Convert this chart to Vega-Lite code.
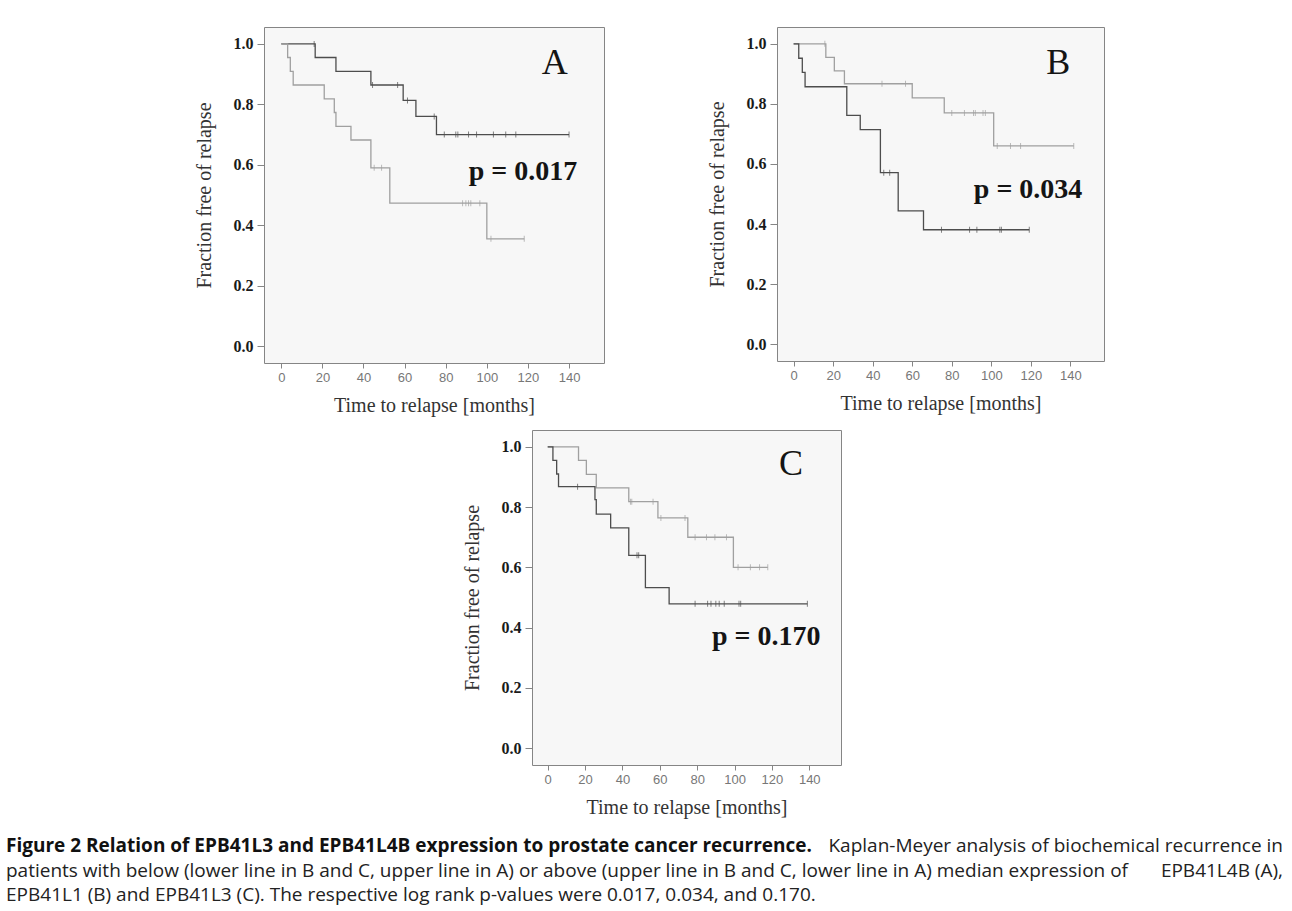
{
  "$schema": "https://vega.github.io/schema/vega-lite/v6.json",
  "background": "white",
  "padding": {"left": 6, "top": 26, "right": 0, "bottom": 10},
  "config": {
    "view": {"stroke": "#858585", "strokeWidth": 1, "fill": "#f7f7f7"},
    "axisX": {"labelFont": "Liberation Sans", "labelFontSize": 13, "labelColor": "#777777", "tickColor": "#858585", "tickSize": 5, "labelPadding": 3, "domain": false, "grid": false, "titleFont": "Liberation Serif", "titleFontSize": 20, "titleFontWeight": "normal", "titleColor": "#333333", "titlePadding": 11},
    "axisY": {"labelFont": "Liberation Serif", "labelFontSize": 16, "labelFontWeight": "bold", "labelColor": "#1a1a1a", "tickColor": "#858585", "tickSize": 7, "labelPadding": 4, "domain": false, "grid": false, "titleFont": "Liberation Serif", "titleFontSize": 20, "titleFontWeight": "normal", "titleColor": "#333333", "titlePadding": 19}
  },
  "datasets": {
    "curves": [
      {"panel": "A", "group": "below", "time": 0, "surv": 1},
      {"panel": "A", "group": "below", "time": 16.5, "surv": 0.955},
      {"panel": "A", "group": "below", "time": 26.6, "surv": 0.909},
      {"panel": "A", "group": "below", "time": 43.6, "surv": 0.864},
      {"panel": "A", "group": "below", "time": 59.3, "surv": 0.813},
      {"panel": "A", "group": "below", "time": 65.5, "surv": 0.76},
      {"panel": "A", "group": "below", "time": 75.5, "surv": 0.7},
      {"panel": "A", "group": "below", "time": 140, "surv": 0.7},
      {"panel": "A", "group": "above", "time": 0, "surv": 1},
      {"panel": "A", "group": "above", "time": 3.1, "surv": 0.955},
      {"panel": "A", "group": "above", "time": 4.4, "surv": 0.909},
      {"panel": "A", "group": "above", "time": 5.8, "surv": 0.864},
      {"panel": "A", "group": "above", "time": 20.9, "surv": 0.818},
      {"panel": "A", "group": "above", "time": 25.8, "surv": 0.773},
      {"panel": "A", "group": "above", "time": 26.6, "surv": 0.727},
      {"panel": "A", "group": "above", "time": 33.9, "surv": 0.682},
      {"panel": "A", "group": "above", "time": 43.6, "surv": 0.59},
      {"panel": "A", "group": "above", "time": 52.8, "surv": 0.473},
      {"panel": "A", "group": "above", "time": 100, "surv": 0.355},
      {"panel": "A", "group": "above", "time": 118.2, "surv": 0.355},
      {"panel": "B", "group": "above", "time": 0, "surv": 1},
      {"panel": "B", "group": "above", "time": 16.3, "surv": 0.955},
      {"panel": "B", "group": "above", "time": 20.6, "surv": 0.91},
      {"panel": "B", "group": "above", "time": 25.7, "surv": 0.867},
      {"panel": "B", "group": "above", "time": 60, "surv": 0.82},
      {"panel": "B", "group": "above", "time": 76.2, "surv": 0.77},
      {"panel": "B", "group": "above", "time": 101.2, "surv": 0.66},
      {"panel": "B", "group": "above", "time": 141.7, "surv": 0.66},
      {"panel": "B", "group": "below", "time": 0, "surv": 1},
      {"panel": "B", "group": "below", "time": 2.6, "surv": 0.952},
      {"panel": "B", "group": "below", "time": 4.4, "surv": 0.905},
      {"panel": "B", "group": "below", "time": 5.8, "surv": 0.857},
      {"panel": "B", "group": "below", "time": 26.9, "surv": 0.762},
      {"panel": "B", "group": "below", "time": 33.7, "surv": 0.714},
      {"panel": "B", "group": "below", "time": 43.9, "surv": 0.571},
      {"panel": "B", "group": "below", "time": 52.9, "surv": 0.444},
      {"panel": "B", "group": "below", "time": 65.7, "surv": 0.381},
      {"panel": "B", "group": "below", "time": 119.2, "surv": 0.381},
      {"panel": "C", "group": "above", "time": 0, "surv": 1},
      {"panel": "C", "group": "above", "time": 16.5, "surv": 0.955},
      {"panel": "C", "group": "above", "time": 20.7, "surv": 0.909},
      {"panel": "C", "group": "above", "time": 26, "surv": 0.864},
      {"panel": "C", "group": "above", "time": 43.4, "surv": 0.818},
      {"panel": "C", "group": "above", "time": 59, "surv": 0.764},
      {"panel": "C", "group": "above", "time": 75, "surv": 0.7},
      {"panel": "C", "group": "above", "time": 99.4, "surv": 0.6},
      {"panel": "C", "group": "above", "time": 117.8, "surv": 0.6},
      {"panel": "C", "group": "below", "time": 0, "surv": 1},
      {"panel": "C", "group": "below", "time": 2.8, "surv": 0.955},
      {"panel": "C", "group": "below", "time": 4.8, "surv": 0.91},
      {"panel": "C", "group": "below", "time": 5.8, "surv": 0.868},
      {"panel": "C", "group": "below", "time": 25.3, "surv": 0.825},
      {"panel": "C", "group": "below", "time": 26, "surv": 0.777},
      {"panel": "C", "group": "below", "time": 33.7, "surv": 0.731},
      {"panel": "C", "group": "below", "time": 43.4, "surv": 0.64},
      {"panel": "C", "group": "below", "time": 52.3, "surv": 0.533},
      {"panel": "C", "group": "below", "time": 65, "surv": 0.479},
      {"panel": "C", "group": "below", "time": 139, "surv": 0.479}
    ],
    "censors": [
      {"panel": "A", "group": "below", "time": 16, "surv": 1},
      {"panel": "A", "group": "below", "time": 44.4, "surv": 0.864},
      {"panel": "A", "group": "below", "time": 56.6, "surv": 0.864},
      {"panel": "A", "group": "below", "time": 61.4, "surv": 0.813},
      {"panel": "A", "group": "below", "time": 74.4, "surv": 0.76},
      {"panel": "A", "group": "below", "time": 79.3, "surv": 0.7},
      {"panel": "A", "group": "below", "time": 84.9, "surv": 0.7},
      {"panel": "A", "group": "below", "time": 85.9, "surv": 0.7},
      {"panel": "A", "group": "below", "time": 91.1, "surv": 0.7},
      {"panel": "A", "group": "below", "time": 95, "surv": 0.7},
      {"panel": "A", "group": "below", "time": 103.2, "surv": 0.7},
      {"panel": "A", "group": "below", "time": 109.2, "surv": 0.7},
      {"panel": "A", "group": "below", "time": 114.1, "surv": 0.7},
      {"panel": "A", "group": "below", "time": 140, "surv": 0.7},
      {"panel": "A", "group": "above", "time": 45.2, "surv": 0.59},
      {"panel": "A", "group": "above", "time": 48.8, "surv": 0.59},
      {"panel": "A", "group": "above", "time": 88.2, "surv": 0.473},
      {"panel": "A", "group": "above", "time": 89.8, "surv": 0.473},
      {"panel": "A", "group": "above", "time": 91.1, "surv": 0.473},
      {"panel": "A", "group": "above", "time": 92.2, "surv": 0.473},
      {"panel": "A", "group": "above", "time": 96.6, "surv": 0.473},
      {"panel": "A", "group": "above", "time": 102, "surv": 0.355},
      {"panel": "A", "group": "above", "time": 118.2, "surv": 0.355},
      {"panel": "B", "group": "above", "time": 15.8, "surv": 1},
      {"panel": "B", "group": "above", "time": 44.7, "surv": 0.867},
      {"panel": "B", "group": "above", "time": 56.6, "surv": 0.867},
      {"panel": "B", "group": "above", "time": 80, "surv": 0.77},
      {"panel": "B", "group": "above", "time": 86.4, "surv": 0.77},
      {"panel": "B", "group": "above", "time": 91, "surv": 0.77},
      {"panel": "B", "group": "above", "time": 91.9, "surv": 0.77},
      {"panel": "B", "group": "above", "time": 95.8, "surv": 0.77},
      {"panel": "B", "group": "above", "time": 97, "surv": 0.77},
      {"panel": "B", "group": "above", "time": 103, "surv": 0.66},
      {"panel": "B", "group": "above", "time": 109.7, "surv": 0.66},
      {"panel": "B", "group": "above", "time": 114.8, "surv": 0.66},
      {"panel": "B", "group": "above", "time": 141.7, "surv": 0.66},
      {"panel": "B", "group": "below", "time": 45.6, "surv": 0.571},
      {"panel": "B", "group": "below", "time": 48.6, "surv": 0.571},
      {"panel": "B", "group": "below", "time": 74.8, "surv": 0.381},
      {"panel": "B", "group": "below", "time": 89, "surv": 0.381},
      {"panel": "B", "group": "below", "time": 92.7, "surv": 0.381},
      {"panel": "B", "group": "below", "time": 104.3, "surv": 0.381},
      {"panel": "B", "group": "below", "time": 105.1, "surv": 0.381},
      {"panel": "B", "group": "below", "time": 119.2, "surv": 0.381},
      {"panel": "C", "group": "above", "time": 44.3, "surv": 0.818},
      {"panel": "C", "group": "above", "time": 45, "surv": 0.818},
      {"panel": "C", "group": "above", "time": 56.4, "surv": 0.818},
      {"panel": "C", "group": "above", "time": 60.6, "surv": 0.764},
      {"panel": "C", "group": "above", "time": 73.5, "surv": 0.764},
      {"panel": "C", "group": "above", "time": 78.9, "surv": 0.7},
      {"panel": "C", "group": "above", "time": 85, "surv": 0.7},
      {"panel": "C", "group": "above", "time": 89.5, "surv": 0.7},
      {"panel": "C", "group": "above", "time": 95.7, "surv": 0.7},
      {"panel": "C", "group": "above", "time": 101.9, "surv": 0.6},
      {"panel": "C", "group": "above", "time": 108.5, "surv": 0.6},
      {"panel": "C", "group": "above", "time": 113.4, "surv": 0.6},
      {"panel": "C", "group": "above", "time": 117.8, "surv": 0.6},
      {"panel": "C", "group": "below", "time": 16, "surv": 0.868},
      {"panel": "C", "group": "below", "time": 47.8, "surv": 0.64},
      {"panel": "C", "group": "below", "time": 48.7, "surv": 0.64},
      {"panel": "C", "group": "below", "time": 78.9, "surv": 0.479},
      {"panel": "C", "group": "below", "time": 85.6, "surv": 0.479},
      {"panel": "C", "group": "below", "time": 87.4, "surv": 0.479},
      {"panel": "C", "group": "below", "time": 90, "surv": 0.479},
      {"panel": "C", "group": "below", "time": 91.8, "surv": 0.479},
      {"panel": "C", "group": "below", "time": 94.5, "surv": 0.479},
      {"panel": "C", "group": "below", "time": 102.4, "surv": 0.479},
      {"panel": "C", "group": "below", "time": 103.3, "surv": 0.479},
      {"panel": "C", "group": "below", "time": 139, "surv": 0.479}
    ],
    "labels": [
      {"panel": "A", "p": "p = 0.017"},
      {"panel": "B", "p": "p = 0.034"},
      {"panel": "C", "p": "p = 0.170"}
    ],
    "caption": [
      {"line": 1, "part": "b", "text": "Figure 2 Relation of EPB41L3 and EPB41L4B expression to prostate cancer recurrence."},
      {"line": 1, "part": "r", "text": "Kaplan-Meyer analysis of biochemical recurrence in"},
      {"line": 2, "part": "l", "text": "patients with below (lower line in B and C, upper line in A) or above (upper line in B and C, lower line in A) median expression of"},
      {"line": 2, "part": "r", "text": "EPB41L4B (A),"},
      {"line": 3, "part": "l", "text": "EPB41L1 (B) and EPB41L3 (C). The respective log rank p-values were 0.017, 0.034, and 0.170."}
    ]
  },
  "vconcat": [
    {
      "hconcat": [
        {"width": 1, "height": 1, "data": {"values": []}, "mark": "point", "view": {"stroke": null, "fill": null}},
        {
          "vconcat": [
            {
              "hconcat": [
                {
                  "width": 340, "height": 336,
                  "layer": [
                    {"data": {"name": "curves"}, "transform": [{"filter": "datum.panel === 'A'"}],
                     "mark": {"type": "line", "interpolate": "step-after", "strokeWidth": 1.3},
                     "encoding": {
                       "x": {"field": "time", "type": "quantitative", "title": "Time to relapse [months]", "scale": {"domain": [-8.4, 157], "nice": false, "zero": false}, "axis": {"values": [0, 20, 40, 60, 80, 100, 120, 140]}},
                       "y": {"field": "surv", "type": "quantitative", "title": "Fraction free of relapse", "scale": {"domain": [-0.056, 1.056], "nice": false, "zero": false}, "axis": {"values": [0, 0.2, 0.4, 0.6, 0.8, 1], "format": ".1f"}},
                       "color": {"field": "group", "type": "nominal", "scale": {"domain": ["below", "above"], "range": ["#4d4d4d", "#a0a0a0"]}, "legend": null}
                     }},
                    {"data": {"name": "censors"}, "transform": [{"filter": "datum.panel === 'A'"}],
                     "mark": {"type": "tick", "orient": "vertical", "size": 6, "thickness": 1},
                     "encoding": {"x": {"field": "time", "type": "quantitative"}, "y": {"field": "surv", "type": "quantitative"}, "color": {"field": "group", "type": "nominal", "legend": null}}},
                    {"data": {"name": "labels"}, "transform": [{"filter": "datum.panel === 'A'"}],
                     "mark": {"type": "text", "font": "Liberation Serif", "fontSize": 36, "align": "center", "baseline": "alphabetic", "color": "#141414"},
                     "encoding": {"x": {"datum": 133}, "y": {"datum": 0.9}, "text": {"field": "panel"}}},
                    {"data": {"name": "labels"}, "transform": [{"filter": "datum.panel === 'A'"}],
                     "mark": {"type": "text", "font": "Liberation Serif", "fontSize": 28, "fontWeight": "bold", "align": "center", "baseline": "alphabetic", "color": "#141414"},
                     "encoding": {"x": {"datum": 117.6}, "y": {"datum": 0.549}, "text": {"field": "p"}}}
                  ]
                },
                {
                  "width": 327, "height": 334,
                  "layer": [
                    {"data": {"name": "curves"}, "transform": [{"filter": "datum.panel === 'B'"}],
                     "mark": {"type": "line", "interpolate": "step-after", "strokeWidth": 1.3},
                     "encoding": {
                       "x": {"field": "time", "type": "quantitative", "title": "Time to relapse [months]", "scale": {"domain": [-8.4, 157], "nice": false, "zero": false}, "axis": {"values": [0, 20, 40, 60, 80, 100, 120, 140]}},
                       "y": {"field": "surv", "type": "quantitative", "title": "Fraction free of relapse", "scale": {"domain": [-0.056, 1.056], "nice": false, "zero": false}, "axis": {"values": [0, 0.2, 0.4, 0.6, 0.8, 1], "format": ".1f"}},
                       "color": {"field": "group", "type": "nominal", "scale": {"domain": ["below", "above"], "range": ["#4d4d4d", "#a0a0a0"]}, "legend": null}
                     }},
                    {"data": {"name": "censors"}, "transform": [{"filter": "datum.panel === 'B'"}],
                     "mark": {"type": "tick", "orient": "vertical", "size": 6, "thickness": 1},
                     "encoding": {"x": {"field": "time", "type": "quantitative"}, "y": {"field": "surv", "type": "quantitative"}, "color": {"field": "group", "type": "nominal", "legend": null}}},
                    {"data": {"name": "labels"}, "transform": [{"filter": "datum.panel === 'B'"}],
                     "mark": {"type": "text", "font": "Liberation Serif", "fontSize": 36, "align": "center", "baseline": "alphabetic", "color": "#141414"},
                     "encoding": {"x": {"datum": 133.9}, "y": {"datum": 0.9}, "text": {"field": "panel"}}},
                    {"data": {"name": "labels"}, "transform": [{"filter": "datum.panel === 'B'"}],
                     "mark": {"type": "text", "font": "Liberation Serif", "fontSize": 28, "fontWeight": "bold", "align": "center", "baseline": "alphabetic", "color": "#141414"},
                     "encoding": {"x": {"datum": 118.6}, "y": {"datum": 0.486}, "text": {"field": "p"}}}
                  ]
                }
              ],
              "spacing": 101
            },
            {
              "hconcat": [
                {"width": 1, "height": 1, "data": {"values": []}, "mark": "point", "view": {"stroke": null, "fill": null}},
                {
                  "width": 309, "height": 335,
                  "layer": [
                    {"data": {"name": "curves"}, "transform": [{"filter": "datum.panel === 'C'"}],
                     "mark": {"type": "line", "interpolate": "step-after", "strokeWidth": 1.3},
                     "encoding": {
                       "x": {"field": "time", "type": "quantitative", "title": "Time to relapse [months]", "scale": {"domain": [-8.4, 157], "nice": false, "zero": false}, "axis": {"values": [0, 20, 40, 60, 80, 100, 120, 140]}},
                       "y": {"field": "surv", "type": "quantitative", "title": "Fraction free of relapse", "scale": {"domain": [-0.056, 1.056], "nice": false, "zero": false}, "axis": {"values": [0, 0.2, 0.4, 0.6, 0.8, 1], "format": ".1f"}},
                       "color": {"field": "group", "type": "nominal", "scale": {"domain": ["below", "above"], "range": ["#4d4d4d", "#a0a0a0"]}, "legend": null}
                     }},
                    {"data": {"name": "censors"}, "transform": [{"filter": "datum.panel === 'C'"}],
                     "mark": {"type": "tick", "orient": "vertical", "size": 6, "thickness": 1},
                     "encoding": {"x": {"field": "time", "type": "quantitative"}, "y": {"field": "surv", "type": "quantitative"}, "color": {"field": "group", "type": "nominal", "legend": null}}},
                    {"data": {"name": "labels"}, "transform": [{"filter": "datum.panel === 'C'"}],
                     "mark": {"type": "text", "font": "Liberation Serif", "fontSize": 36, "align": "center", "baseline": "alphabetic", "color": "#141414"},
                     "encoding": {"x": {"datum": 130.2}, "y": {"datum": 0.905}, "text": {"field": "panel"}}},
                    {"data": {"name": "labels"}, "transform": [{"filter": "datum.panel === 'C'"}],
                     "mark": {"type": "text", "font": "Liberation Serif", "fontSize": 28, "fontWeight": "bold", "align": "center", "baseline": "alphabetic", "color": "#141414"},
                     "encoding": {"x": {"datum": 117}, "y": {"datum": 0.341}, "text": {"field": "p"}}}
                  ]
                }
              ],
              "spacing": 196
            }
          ],
          "spacing": 13
        }
      ],
      "spacing": 186
    },
    {
      "width": 1277, "height": 49,
      "view": {"stroke": null, "fill": null},
      "data": {"name": "caption"},
      "encoding": {
        "y": {"field": "line", "type": "ordinal", "axis": null, "scale": {"type": "point", "padding": 0}}
      },
      "layer": [
        {"transform": [{"filter": "datum.part === 'b'"}],
         "mark": {"type": "text", "font": "Open Sans", "fontSize": 19, "fontWeight": "bold", "align": "left", "baseline": "alphabetic", "color": "#111111"},
         "encoding": {"x": {"datum": 0, "type": "quantitative", "scale": {"domain": [0, 1]}, "axis": null}, "text": {"field": "text"}}},
        {"transform": [{"filter": "datum.part === 'r'"}],
         "mark": {"type": "text", "font": "Open Sans", "fontSize": 19, "align": "right", "baseline": "alphabetic", "color": "#222222"},
         "encoding": {"x": {"datum": 1, "type": "quantitative", "scale": {"domain": [0, 1]}, "axis": null}, "text": {"field": "text"}}},
        {"transform": [{"filter": "datum.part === 'l'"}],
         "mark": {"type": "text", "font": "Open Sans", "fontSize": 19, "align": "left", "baseline": "alphabetic", "color": "#222222"},
         "encoding": {"x": {"datum": 0, "type": "quantitative", "scale": {"domain": [0, 1]}, "axis": null}, "text": {"field": "text"}}}
      ]
    }
  ],
  "spacing": 19
}
